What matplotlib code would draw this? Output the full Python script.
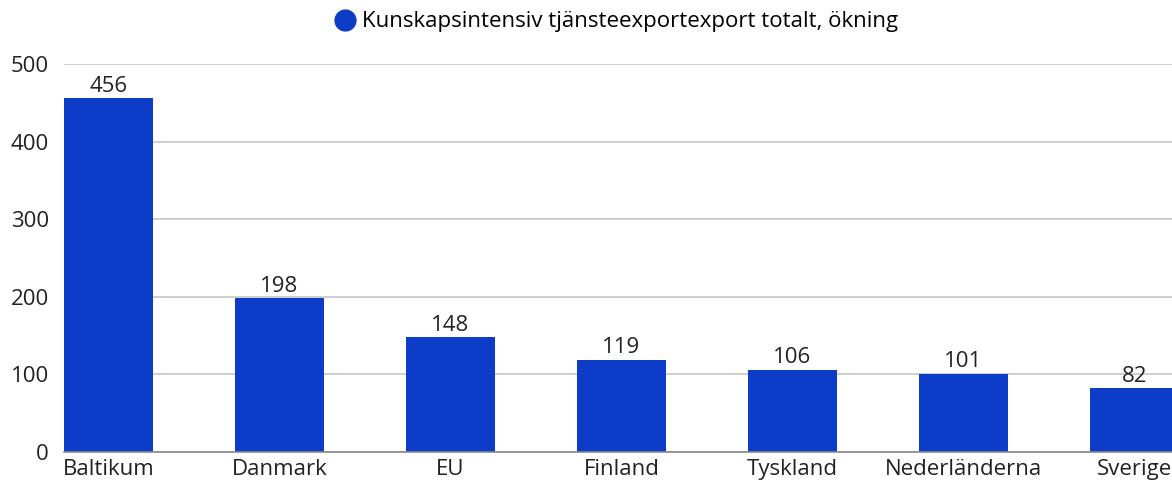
import matplotlib
matplotlib.use("Agg")
import matplotlib.pyplot as plt
from matplotlib.lines import Line2D

categories = ["Baltikum", "Danmark", "EU", "Finland", "Tyskland", "Nederländerna", "Sverige"]
values = [456, 198, 148, 119, 106, 101, 82]
series_name = "Kunskapsintensiv tjänsteexportexport totalt, ökning"
yticks = [0, 100, 200, 300, 400, 500]

plt.rcParams['font.family'] = ['Open Sans', 'DejaVu Sans']
FS = 16
BAR = "#0d3cc9"

fig = plt.figure(figsize=(11.72, 4.8), dpi=100)
ax = fig.add_axes([64/1172, 28/480, 1 - 64/1172, (452-64)/480])

x = list(range(len(categories)))
w = 0.52
bars = ax.bar(x, values, width=w, color=BAR, zorder=3)
ax.set_xlim(-w/2, -w/2 + 1108/171)
ax.set_ylim(0, 500)
ax.set_yticks(yticks)
ax.set_yticklabels([str(t) for t in yticks], fontsize=FS, color="#222222")
ax.set_xticks(x)
ax.set_xticklabels(categories, fontsize=FS, color="#222222")
ax.tick_params(axis='y', length=0, pad=11)
ax.tick_params(axis='x', length=0, pad=5)
ax.grid(axis='y', color="#c6c6c6", linewidth=1.2, zorder=0)
for s in ["top", "right", "left"]:
    ax.spines[s].set_visible(False)
ax.spines["bottom"].set_color("#888888")
ax.spines["bottom"].set_linewidth(1.2)
ax.spines["bottom"].set_zorder(4)

for xi, v in zip(x, values):
    ax.annotate(str(v), (xi, v), xytext=(0, 1), textcoords="offset points",
                ha="center", va="bottom", fontsize=FS, color="#222222", zorder=5)

handle = Line2D([], [], marker='o', linestyle='none', markersize=15,
                markerfacecolor=BAR, markeredgecolor=BAR)
fig.legend([handle], [series_name], loc="center", bbox_to_anchor=(616/1172, 1 - 22/480),
           frameon=False, fontsize=FS, handletextpad=0.3, borderaxespad=0, handlelength=1.0)

fig.savefig("out.png", dpi=100)
